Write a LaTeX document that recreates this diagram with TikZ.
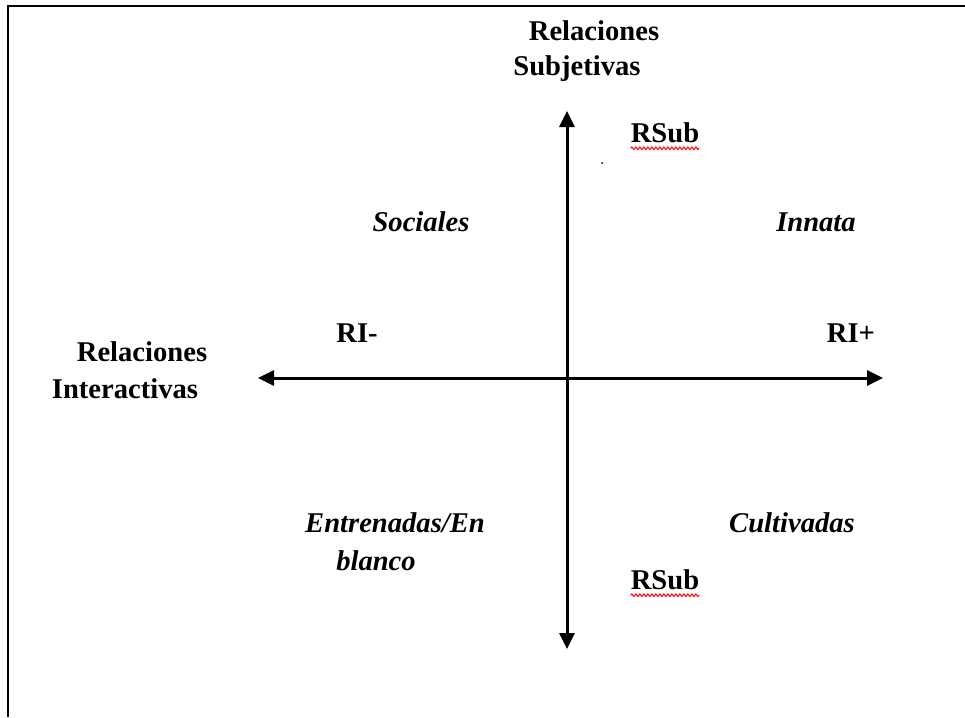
\documentclass[tikz,border=0pt]{standalone}
\usepackage{fontspec}
\setmainfont{Liberation Serif}
\usetikzlibrary{arrows.meta,decorations.pathmorphing}
\begin{document}
\begin{tikzpicture}[x=1pt,y=-1pt,
  lbl/.style={font=\fontsize{28.6}{38}\selectfont\bfseries, inner sep=0pt},
  quad/.style={font=\fontsize{28.6}{38}\selectfont\bfseries\itshape, inner sep=0pt},
  axis/.style={line width=3pt, -{Triangle[length=16pt,width=15pt]}},
  spell/.style={red, line width=1pt, decorate, decoration={snake, amplitude=1.3pt, segment length=4pt}}]
\useasboundingbox (0,0) rectangle (965,717);
\fill[white] (0,0) rectangle (965,717);
% frame
\draw[line width=2pt] (8,717) -- (8,6) -- (965,6);
% axes
\coordinate (c) at (567,378);
\coordinate (top) at (567,111);
\coordinate (bot) at (567,649);
\coordinate (left) at (258,378);
\coordinate (right) at (883,378);
\draw[axis] (c) -- (top);
\draw[axis] (c) -- (bot);
\draw[axis] (c) -- (left);
\draw[axis] (c) -- (right);
% labels
\node[lbl] (rs1) at (594,31) {Relaciones};
\node[lbl] (rs2) at (577,69) {Subjetivas};
\node[lbl] (ri1) at (142,352) {Relaciones};
\node[lbl] (ri2) at (125,389) {Interactivas};
\node[lbl] (rsubt) at (665,133) {RSub};
\node[lbl] (rsubb) at (665,580) {RSub};
\node[lbl] (rim) at (357,333) {RI-};
\node[lbl] (rip) at (851,333) {RI+};
\node[quad] (soc) at (421,222) {Sociales};
\node[quad] (inn) at (816,222) {Innata};
\node[quad] (ent) at (395,523) {Entrenadas/En};
\node[quad] (bla) at (376,561) {blanco};
\node[quad] (cul) at (792,523) {Cultivadas};
% spell-check underlines
\draw[spell] ([yshift=-5pt]rsubt.south west) -- ([yshift=-5pt]rsubt.south east);
\draw[spell] ([yshift=-5pt]rsubb.south west) -- ([yshift=-5pt]rsubb.south east);
% stray dot
\fill (602,163) circle (1pt);
\end{tikzpicture}
\end{document}
